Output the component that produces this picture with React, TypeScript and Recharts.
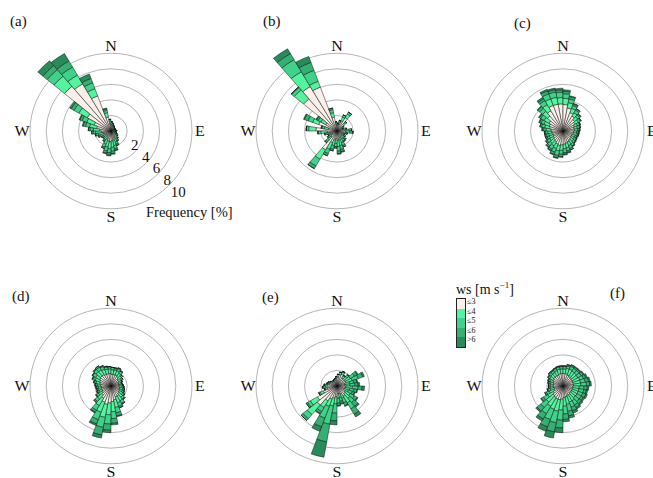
import React from 'react';
import {
    PolarAngleAxis,
    PolarGrid,
    PolarRadiusAxis,
    RadialBar,
    RadialBarChart
} from 'recharts';

// 10 degree sectors, clockwise from north
const directions = [
    0, 10, 20, 30, 40, 50, 60, 70, 80, 90, 100, 110,
    120, 130, 140, 150, 160, 170, 180, 190, 200, 210, 220, 230,
    240, 250, 260, 270, 280, 290, 300, 310, 320, 330, 340, 350
];

const speedKeys = ['s1', 's2', 's3', 's4', 's5'];
const speedLabels = ['≤3', '≤4', '≤5', '≤6', '>6'];
const speedColors = ['#fcefe9', '#52f59e', '#3fd28a', '#33b072', '#278c59'];
const ringTicks = [2, 4, 6, 8, 10];
const compass: Record<number, string> = { 0: 'N', 90: 'E', 180: 'S', 270: 'W' };

// frequency [%] per sector, columns are the wind speed classes above
const roseA = [
    [0.9, 0.4, 0.2, 0, 0], [0.8, 0.3, 0.1, 0, 0], [0.7, 0.2, 0.1, 0, 0], [0.6, 0.2, 0, 0, 0],
    [0.5, 0.2, 0, 0, 0], [0.5, 0.1, 0, 0, 0], [0.5, 0.1, 0, 0, 0], [0.4, 0.1, 0, 0, 0],
    [0.5, 0.1, 0, 0, 0], [0.5, 0.2, 0, 0, 0], [0.4, 0.2, 0, 0, 0], [0.5, 0.2, 0, 0, 0],
    [0.5, 0.2, 0.1, 0, 0], [0.6, 0.3, 0.1, 0, 0], [0.7, 0.3, 0.2, 0, 0], [0.8, 0.4, 0.2, 0.1, 0],
    [1.0, 0.5, 0.3, 0.2, 0], [1.2, 0.7, 0.4, 0.2, 0.1], [1.3, 0.8, 0.5, 0.3, 0.1], [1.4, 0.9, 0.5, 0.3, 0.1],
    [1.3, 0.8, 0.5, 0.3, 0.1], [1.1, 0.7, 0.4, 0.2, 0], [0.8, 0.5, 0.2, 0.1, 0], [0.7, 0.4, 0.2, 0, 0],
    [0.7, 0.4, 0.2, 0.1, 0], [0.9, 0.5, 0.2, 0.1, 0], [1.0, 0.6, 0.3, 0.1, 0], [1.2, 0.7, 0.3, 0.2, 0],
    [1.4, 0.8, 0.4, 0.2, 0], [1.8, 0.9, 0.5, 0.3, 0.1], [2.2, 1.0, 0.6, 0.3, 0.1], [3.4, 1.2, 0.7, 0.4, 0.2],
    [7.5, 1.7, 1.1, 0.7, 0.8], [7.0, 1.3, 1.2, 0.9, 1.1], [4.8, 1.0, 0.8, 0.6, 0.6], [1.8, 0.6, 0.3, 0.2, 0.1]
];

const roseB = [
    [0.8, 0.3, 0.1, 0, 0], [0.7, 0.2, 0.1, 0, 0], [0.9, 0.3, 0.2, 0, 0], [1.4, 0.5, 0.3, 0, 0],
    [2.0, 0.5, 0.3, 0, 0], [1.1, 0.3, 0.2, 0, 0], [0.7, 0.2, 0.1, 0, 0], [0.6, 0.2, 0, 0, 0],
    [0.8, 0.3, 0.1, 0, 0], [1.0, 0.5, 0.3, 0, 0], [1.1, 0.5, 0.3, 0.1, 0], [0.8, 0.3, 0.2, 0, 0],
    [0.6, 0.3, 0.1, 0, 0], [0.7, 0.3, 0.2, 0, 0], [0.8, 0.4, 0.2, 0.1, 0], [0.8, 0.4, 0.3, 0.1, 0],
    [1.0, 0.6, 0.4, 0.2, 0], [1.2, 0.7, 0.5, 0.3, 0.1], [1.2, 0.8, 0.6, 0.3, 0.1], [1.0, 0.6, 0.4, 0.2, 0],
    [1.2, 0.7, 0.5, 0.2, 0], [1.6, 0.9, 0.6, 0.3, 0], [2.8, 1.4, 1.0, 0.4, 0], [1.0, 0.5, 0.3, 0.2, 0],
    [0.8, 0.3, 0.2, 0.1, 0], [0.7, 0.3, 0.2, 0, 0], [0.9, 0.4, 0.2, 0.1, 0], [1.2, 0.8, 0.3, 0.1, 0],
    [2.6, 0.9, 0.3, 0, 0], [1.1, 0.5, 0.3, 0.1, 0], [2.4, 0.8, 0.6, 0.5, 0.1], [1.6, 0.7, 0.4, 0.2, 0.1],
    [5.4, 1.5, 0.4, 0.1, 0], [6.6, 2.2, 1.8, 0.9, 0.7], [6.0, 0.8, 1.5, 1.1, 0.8], [1.8, 0.6, 0.4, 0.2, 0]
];

const roseC = [
    [3.5, 0.8, 0.7, 0.3, 0.2], [3.4, 0.8, 0.6, 0.3, 0.2], [3.0, 0.7, 0.5, 0.3, 0.1], [2.5, 0.6, 0.4, 0.2, 0.1],
    [2.2, 0.5, 0.4, 0.2, 0], [1.9, 0.5, 0.3, 0.2, 0], [1.7, 0.5, 0.3, 0.1, 0], [1.5, 0.4, 0.3, 0.1, 0],
    [1.4, 0.4, 0.3, 0.1, 0], [1.4, 0.4, 0.2, 0.1, 0], [1.3, 0.4, 0.2, 0.1, 0], [1.3, 0.4, 0.2, 0.1, 0],
    [1.2, 0.4, 0.2, 0.1, 0], [1.2, 0.4, 0.3, 0.1, 0], [1.3, 0.4, 0.3, 0.1, 0], [1.4, 0.5, 0.3, 0.1, 0],
    [1.5, 0.5, 0.4, 0.2, 0], [1.6, 0.6, 0.4, 0.2, 0.1], [1.7, 0.6, 0.5, 0.2, 0.1], [1.8, 0.7, 0.5, 0.3, 0.1],
    [1.9, 0.7, 0.6, 0.3, 0.1], [1.8, 0.6, 0.5, 0.3, 0.1], [1.6, 0.6, 0.5, 0.2, 0.1], [1.5, 0.6, 0.4, 0.2, 0.1],
    [1.4, 0.5, 0.4, 0.2, 0], [1.3, 0.5, 0.3, 0.2, 0], [1.3, 0.5, 0.3, 0.2, 0], [1.4, 0.5, 0.3, 0.1, 0],
    [1.5, 0.6, 0.3, 0.2, 0], [1.7, 0.6, 0.4, 0.2, 0], [1.8, 0.7, 0.4, 0.2, 0.1], [2.0, 0.7, 0.5, 0.2, 0.1],
    [2.5, 0.8, 0.5, 0.3, 0.1], [3.0, 0.9, 0.6, 0.3, 0.2], [3.5, 0.9, 0.7, 0.4, 0.2], [3.5, 0.9, 0.7, 0.3, 0.2]
];

const roseD = [
    [1.6, 0.6, 0.3, 0, 0], [1.5, 0.6, 0.3, 0, 0], [1.5, 0.6, 0.2, 0.1, 0], [1.5, 0.6, 0.3, 0.1, 0],
    [1.4, 0.5, 0.3, 0.1, 0], [1.2, 0.5, 0.2, 0, 0], [1.1, 0.4, 0.2, 0, 0], [1.0, 0.4, 0.1, 0, 0],
    [1.0, 0.3, 0.1, 0, 0], [1.0, 0.4, 0.1, 0, 0], [1.0, 0.4, 0.2, 0, 0], [1.1, 0.4, 0.2, 0, 0],
    [1.1, 0.4, 0.2, 0.1, 0], [1.2, 0.5, 0.2, 0.1, 0], [1.3, 0.6, 0.3, 0.1, 0], [1.5, 0.7, 0.4, 0.1, 0],
    [1.5, 0.8, 0.5, 0.2, 0], [1.8, 1.0, 0.7, 0.4, 0.1], [2.0, 1.3, 0.9, 0.6, 0.2], [2.2, 1.5, 1.2, 0.8, 0.3],
    [2.4, 1.7, 1.3, 1.0, 0.4], [2.2, 1.4, 1.0, 0.6, 0.2], [1.8, 1.1, 0.7, 0.3, 0.1], [1.5, 0.7, 0.4, 0.2, 0],
    [1.3, 0.5, 0.3, 0.1, 0], [1.2, 0.4, 0.2, 0.1, 0], [1.2, 0.4, 0.2, 0, 0], [1.2, 0.4, 0.2, 0.1, 0],
    [1.3, 0.4, 0.2, 0.1, 0], [1.4, 0.5, 0.2, 0.1, 0], [1.5, 0.6, 0.3, 0.1, 0], [1.6, 0.6, 0.4, 0.1, 0],
    [1.7, 0.7, 0.4, 0.1, 0], [1.7, 0.7, 0.4, 0.2, 0], [1.6, 0.7, 0.4, 0.1, 0], [1.6, 0.6, 0.3, 0.1, 0]
];

const roseE = [
    [1.0, 0.2, 0, 0, 0], [1.2, 0.3, 0, 0, 0], [1.5, 0.3, 0, 0, 0], [1.6, 0.3, 0.1, 0, 0],
    [1.2, 0.3, 0.1, 0, 0], [1.1, 0.5, 0.3, 0.1, 0], [1.2, 0.7, 0.6, 0.4, 0.1], [1.2, 0.8, 0.8, 0.6, 0.2],
    [1.0, 0.6, 0.5, 0.4, 0.1], [1.0, 0.6, 0.6, 0.4, 0.2], [1.1, 0.8, 0.7, 0.5, 0.3], [1.0, 0.6, 0.5, 0.4, 0.1],
    [0.9, 0.6, 0.5, 0.3, 0.1], [1.2, 0.7, 0.6, 0.4, 0.1], [1.3, 0.8, 0.7, 0.6, 0.2], [1.5, 1.0, 0.9, 0.8, 0.4],
    [1.1, 0.6, 0.6, 0.4, 0.1], [1.0, 0.5, 0.5, 0.3, 0.1], [1.0, 0.6, 0.6, 0.3, 0.1], [1.4, 0.9, 1.2, 1.0, 0.5],
    [1.6, 1.0, 2.4, 2.3, 2.0], [1.8, 1.0, 1.6, 1.2, 0.6], [2.2, 1.0, 0.6, 0.3, 0.1], [3.2, 1.6, 0.7, 0.3, 0],
    [2.8, 1.0, 0.4, 0.2, 0], [1.8, 0.4, 0.2, 0, 0], [1.2, 0.3, 0.1, 0, 0], [1.4, 0.3, 0.1, 0, 0],
    [1.2, 0.3, 0.1, 0, 0], [1.0, 0.2, 0.1, 0, 0], [0.9, 0.2, 0.1, 0, 0], [0.8, 0.2, 0, 0, 0],
    [0.7, 0.2, 0, 0, 0], [0.6, 0.2, 0, 0, 0], [0.7, 0.2, 0, 0, 0], [0.8, 0.2, 0, 0, 0]
];

const roseF = [
    [1.6, 0.6, 0.3, 0.1, 0], [1.6, 0.6, 0.3, 0.1, 0], [1.6, 0.7, 0.3, 0.2, 0], [1.5, 0.8, 0.4, 0.2, 0],
    [1.4, 0.8, 0.4, 0.2, 0.1], [1.4, 0.8, 0.4, 0.2, 0.1], [1.3, 0.8, 0.5, 0.3, 0.1], [1.3, 0.9, 0.5, 0.3, 0.2],
    [1.3, 0.9, 0.6, 0.4, 0.2], [1.3, 0.9, 0.7, 0.4, 0.2], [1.2, 0.8, 0.6, 0.4, 0.2], [1.2, 0.8, 0.6, 0.3, 0.2],
    [1.2, 0.8, 0.6, 0.4, 0.2], [1.2, 0.8, 0.6, 0.3, 0.2], [1.2, 0.8, 0.6, 0.4, 0.2], [1.3, 0.9, 0.6, 0.4, 0.2],
    [1.3, 0.9, 0.7, 0.5, 0.3], [1.4, 1.0, 0.9, 0.6, 0.3], [1.5, 1.1, 1.0, 0.7, 0.3], [1.7, 1.4, 1.3, 1.0, 0.6],
    [1.8, 1.5, 1.5, 1.2, 0.8], [1.8, 1.4, 1.4, 1.0, 0.6], [1.7, 1.3, 1.1, 0.8, 0.3], [1.6, 1.1, 0.9, 0.6, 0.2],
    [1.4, 0.8, 0.6, 0.3, 0.1], [1.2, 0.6, 0.4, 0.2, 0], [1.1, 0.5, 0.3, 0.1, 0], [1.2, 0.4, 0.2, 0, 0],
    [1.2, 0.4, 0.2, 0, 0], [1.2, 0.4, 0.2, 0.1, 0], [1.3, 0.4, 0.2, 0.1, 0], [1.4, 0.5, 0.2, 0.1, 0],
    [1.5, 0.5, 0.3, 0.1, 0], [1.5, 0.5, 0.3, 0.1, 0], [1.5, 0.6, 0.3, 0.1, 0], [1.6, 0.6, 0.3, 0.1, 0]
];

const panels = [
    { label: '(a)', rows: roseA, cx: 110.5, cy: 131, lx: 10, ly: 14 },
    { label: '(b)', rows: roseB, cx: 336.5, cy: 131, lx: 263, ly: 14 },
    { label: '(c)', rows: roseC, cx: 563, cy: 131, lx: 514, ly: 16 },
    { label: '(d)', rows: roseD, cx: 110.5, cy: 386, lx: 12, ly: 289 },
    { label: '(e)', rows: roseE, cx: 336.5, cy: 386, lx: 262, ly: 290 },
    { label: '(f)', rows: roseF, cx: 563, cy: 386, lx: 610, ly: 286 }
];

const FONT = '"Liberation Serif", "DejaVu Serif", serif';
const W = 240;
const H = 260;
// radius axis runs to 14 % so the longest sectors can pass the 10 % ring
const R_MAX = 14;
const RING_10 = 81;
const OUTER = (RING_10 * R_MAX) / 10;
const LABEL_R = RING_10 + 8;

const toData = (rows: number[][]) =>
    directions.map((dir, i) => {
        const row: Record<string, number> = { dir };
        speedKeys.forEach((k, j) => { row[k] = rows[i][j]; });
        return row;
    });

const CompassTick = (props: any) => {
    const name = compass[props.payload?.value];
    if (!name) return null;
    // pull the label in from the axis edge to just outside the 10 % ring
    const k = LABEL_R / (OUTER + 8);
    const x = W / 2 + (props.x - W / 2) * k;
    const y = H / 2 + (props.y - H / 2) * k;
    return (
        <text x={x} y={y} textAnchor="middle" dominantBaseline="central"
            fontFamily={FONT} fontSize={16} fill="#111">
            {name}
        </text>
    );
};

const RingTick = (props: any) => (
    <text x={props.x + 13} y={props.y + 3} textAnchor="middle" dominantBaseline="central"
        fontFamily={FONT} fontSize={15} fill="#111">
        {props.payload?.value}
    </text>
);

const Rose = ({ rows, cx, cy, showScale }: { rows: number[][]; cx: number; cy: number; showScale: boolean }) => (
    <div style={{
        position: 'absolute', left: cx - W / 2, top: cy - H / 2, width: W, height: H,
        transform: 'scaleY(0.96)', transformOrigin: `${W / 2}px ${H / 2}px`
    }}>
        <RadialBarChart width={W} height={H} data={toData(rows)} layout="centric"
            cx={W / 2} cy={H / 2} innerRadius={0} outerRadius={OUTER}
            startAngle={90} endAngle={-270} barCategoryGap={0} barGap={0}
            margin={{ top: 0, right: 0, bottom: 0, left: 0 }}>
            <PolarGrid gridType="circle" radialLines={false} stroke="#b3b3b3" strokeWidth={1} />
            <PolarAngleAxis dataKey="dir" type="category" axisLine={false} tickLine={false}
                tick={(p: any) => <CompassTick {...p} />} />
            <PolarRadiusAxis type="number" domain={[0, R_MAX]} ticks={ringTicks}
                angle={-48} axisLine={false} tickLine={false}
                tick={showScale ? (p: any) => <RingTick {...p} /> : false} />
            {speedKeys.map((k, i) => (
                <RadialBar key={k} dataKey={k} stackId="ws" fill={speedColors[i]}
                    stroke="#111" strokeWidth={0.5} isAnimationActive={false} />
            ))}
        </RadialBarChart>
    </div>
);

const App: React.FC = () => (
    <div style={{
        position: 'absolute', left: 0, top: 0, width: 653, height: 478,
        background: '#fff', overflow: 'hidden', fontFamily: FONT, color: '#111'
    }}>
        {panels.map((p, i) => (
            <React.Fragment key={p.label}>
                <Rose rows={p.rows} cx={p.cx} cy={p.cy} showScale={i === 0} />
                <div style={{ position: 'absolute', left: p.lx, top: p.ly, fontSize: 15, lineHeight: 1 }}>
                    {p.label}
                </div>
            </React.Fragment>
        ))}

        <div style={{ position: 'absolute', left: 146, top: 205, fontSize: 14.5, lineHeight: 1 }}>
            Frequency [%]
        </div>

        {/* speed class key */}
        <div style={{ position: 'absolute', left: 456, top: 281, fontSize: 14, lineHeight: 1, whiteSpace: 'nowrap' }}>
            ws [m s<sup style={{ fontSize: 9 }}>−1</sup>]
        </div>
        <div style={{ position: 'absolute', left: 456, top: 298, width: 8, border: '1px solid #222' }}>
            {speedColors.map(c => (
                <div key={c} style={{ height: 9.6, background: c }} />
            ))}
        </div>
        <div style={{ position: 'absolute', left: 467, top: 297, fontSize: 8, lineHeight: '9.6px' }}>
            {speedLabels.map(l => <div key={l}>{l}</div>)}
        </div>
    </div>
);

export default App;
